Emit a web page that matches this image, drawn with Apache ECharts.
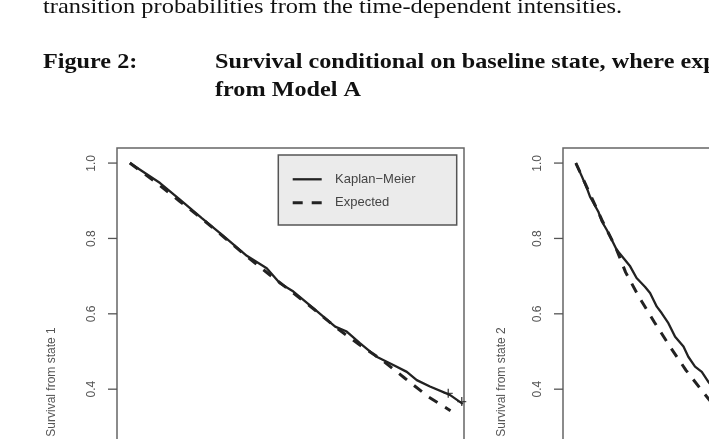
<!DOCTYPE html>
<html>
<head>
<meta charset="utf-8">
<script src="https://cdn.jsdelivr.net/npm/echarts@6/dist/echarts.min.js"></script>
<style>
  html, body { margin: 0; padding: 0; background: #fff; width: 709px; height: 439px; overflow: hidden; }
  #chart { width: 1000px; height: 620px; }
</style>
</head>
<body>
<div id="chart"></div>
<script>
// state 1: Kaplan-Meier and expected survival
const kmTime1 = [0, 0.94, 1.56, 2.24, 2.91, 3.64, 4.26, 4.67, 5.09, 5.71, 6.39, 6.75, 7.16, 7.68, 8.20, 8.62, 8.93, 9.34, 9.96, 10.36];
const kmSurv1 = [1.0, 0.947, 0.903, 0.854, 0.807, 0.754, 0.721, 0.681, 0.659, 0.615, 0.566, 0.553, 0.522, 0.486, 0.464, 0.446, 0.424, 0.407, 0.385, 0.361];
const expTime1 = [0, 0.84, 1.56, 2.29, 2.96, 3.64, 4.36, 5.09, 5.76, 6.44, 7.16, 7.84, 8.56, 9.29, 9.98];
const expSurv1 = [1.0, 0.947, 0.898, 0.849, 0.801, 0.752, 0.703, 0.655, 0.610, 0.562, 0.517, 0.478, 0.429, 0.380, 0.343];
const censorTime1 = [9.91, 10.33];
const censorSurv1 = [0.389, 0.367];

// state 2
const kmTime2 = [0, 0.19, 0.34, 0.44, 0.55, 0.70, 0.81, 0.96, 1.12, 1.27, 1.48, 1.69, 1.89, 2.15, 2.31, 2.52, 2.67, 2.88, 3.09, 3.35, 3.50, 3.71, 3.92, 4.12, 4.30];
const kmSurv2 = [1.0, 0.964, 0.934, 0.911, 0.894, 0.871, 0.845, 0.823, 0.796, 0.770, 0.748, 0.726, 0.695, 0.672, 0.655, 0.619, 0.602, 0.575, 0.539, 0.513, 0.486, 0.460, 0.446, 0.420, 0.402];
const expTime2 = [0, 0.38, 0.81, 1.24, 1.55, 1.97, 2.45, 2.93, 3.43, 3.97, 4.24];
const expSurv2 = [1.0, 0.929, 0.849, 0.776, 0.710, 0.644, 0.577, 0.513, 0.450, 0.391, 0.363];

const yTicks = [0, 0.2, 0.4, 0.6, 0.8, 1.0];
const yNames = ["Survival from state 1", "Survival from state 2"];
const legendNames = ["Kaplan\u2212Meier", "Expected"];

const pairs = (xs, ys) => xs.map((x, i) => [x, ys[i]]);

const chart = echarts.init(document.getElementById("chart"));

const sans = "Liberation Sans, Arial, sans-serif";
const serif = "Liberation Serif, Times New Roman, serif";
const ink = "#222";
const frame = "#666";
const solidStyle = { color: ink, width: 2.3 };
const dashedStyle = { color: ink, width: 3, type: [10, 9] };

// plot boxes (R pads the 0..1 range by 4% each side)
const panelLeft = [117, 563];
const boxTop = 148, boxHeight = 407, boxWidth = 347;
const tickTop = 163.3, tickHeight = 376.5, tickLen = 9;

const grids = [];
panelLeft.forEach((left) => {
  grids.push({ left, top: boxTop, width: boxWidth, height: boxHeight, show: true, borderColor: frame, borderWidth: 1.5 });
});
// narrow strips left of each box, carrying the tick labels
panelLeft.forEach((left) => {
  grids.push({ left: left - tickLen, top: tickTop, width: tickLen, height: tickHeight, show: false });
});

const hiddenX = (gridIndex, min, max) => ({
  type: "value", gridIndex, min, max,
  splitLine: { show: false }, axisLine: { show: false, onZero: false },
  axisTick: { show: false }, axisLabel: { show: false },
});

const plotY = (gridIndex) => ({
  type: "value", gridIndex, min: -0.04, max: 1.04,
  splitLine: { show: false }, axisLine: { show: false, onZero: false },
  axisTick: { show: false }, axisLabel: { show: false },
});

const tickY = (gridIndex) => ({
  type: "value", gridIndex, min: 0, max: 1, interval: 0.2,
  splitLine: { show: false },
  axisLine: { show: false, onZero: false },
  axisTick: { show: false },
  axisLabel: {
    rotate: 90, margin: 10, color: "#555", fontFamily: sans, fontSize: 12,
    formatter: (v) => v.toFixed(1),
  },
});

function lineSeries(name, idx, data, dashed) {
  return {
    name,
    type: "line",
    xAxisIndex: idx,
    yAxisIndex: idx,
    data,
    symbol: "none",
    silent: true,
    lineStyle: dashed ? dashedStyle : solidStyle,
  };
}

chart.setOption({
  animation: false,
  backgroundColor: "#fff",
  grid: grids,
  xAxis: [hiddenX(0, -0.4, 10.4), hiddenX(1, -0.4, 10.4), hiddenX(2, 0, 1), hiddenX(3, 0, 1)],
  yAxis: [plotY(0), plotY(1), tickY(2), tickY(3)],
  series: [
    lineSeries(legendNames[0], 0, pairs(kmTime1, kmSurv1), false),
    lineSeries(legendNames[1], 0, pairs(expTime1, expSurv1), true),
    {
      type: "scatter",
      xAxisIndex: 0,
      yAxisIndex: 0,
      data: pairs(censorTime1, censorSurv1),
      symbol: "path://M0,5L10,5M5,0L5,10",
      symbolSize: 9,
      silent: true,
      itemStyle: { color: "transparent", borderColor: ink, borderWidth: 1.4 },
    },
    lineSeries(legendNames[0], 1, pairs(kmTime2, kmSurv2), false),
    lineSeries(legendNames[1], 1, pairs(expTime2, expSurv2), true),
  ],
  graphic: [
    {
      type: "text", x: 43, y: -4, scaleX: 1.11,
      style: { text: "transition probabilities from the time-dependent intensities.", fill: "#111", font: "22px " + serif },
    },
    {
      type: "text", x: 43, y: 51, scaleX: 1.1,
      style: { text: "Figure 2:", fill: "#111", font: "bold 22px " + serif },
    },
    {
      type: "text", x: 215, y: 51, scaleX: 1.1,
      style: { text: "Survival conditional on baseline state, where expected survival is", fill: "#111", font: "bold 22px " + serif },
    },
    {
      type: "text", x: 215, y: 79, scaleX: 1.1,
      style: { text: "from Model A", fill: "#111", font: "bold 22px " + serif },
    },
    {
      type: "text", x: 52, y: 382, rotation: Math.PI / 2,
      style: { text: yNames[0], fill: "#555", font: "12px " + sans, align: "center", verticalAlign: "middle" },
    },
    {
      type: "text", x: 502, y: 382, rotation: Math.PI / 2,
      style: { text: yNames[1], fill: "#555", font: "12px " + sans, align: "center", verticalAlign: "middle" },
    },
    // legend box of the left panel
    {
      type: "group",
      children: [
        {
          type: "rect",
          shape: { x: 278.3, y: 155, width: 178.4, height: 70 },
          style: { fill: "#ebebeb", stroke: "#555", lineWidth: 1.5 },
        },
        {
          type: "line",
          shape: { x1: 292.7, y1: 179.3, x2: 321.7, y2: 179.3 },
          style: { stroke: ink, lineWidth: solidStyle.width },
        },
        {
          type: "line",
          shape: { x1: 292.7, y1: 202.7, x2: 321.7, y2: 202.7 },
          style: { stroke: ink, lineWidth: dashedStyle.width, lineDash: dashedStyle.type },
        },
        {
          type: "text", x: 335, y: 179.3,
          style: { text: legendNames[0], fill: "#444", font: "13px " + sans, verticalAlign: "middle" },
        },
        {
          type: "text", x: 335, y: 202.7,
          style: { text: legendNames[1], fill: "#444", font: "13px " + sans, verticalAlign: "middle" },
        },
      ],
    },
  ],
});

// tick marks placed through the plot axes' own scale
const tickMarks = [];
panelLeft.forEach((left, i) => {
  yTicks.forEach((v) => {
    const y = chart.convertToPixel({ yAxisIndex: i }, v);
    tickMarks.push({
      id: `tick-${i}-${v}`,
      type: "line",
      shape: { x1: left - tickLen, y1: y, x2: left, y2: y },
      style: { stroke: "#555", lineWidth: 1.3 },
    });
  });
});
chart.setOption({ graphic: tickMarks });

window.addEventListener("resize", () => chart.resize());
</script>
</body>
</html>
